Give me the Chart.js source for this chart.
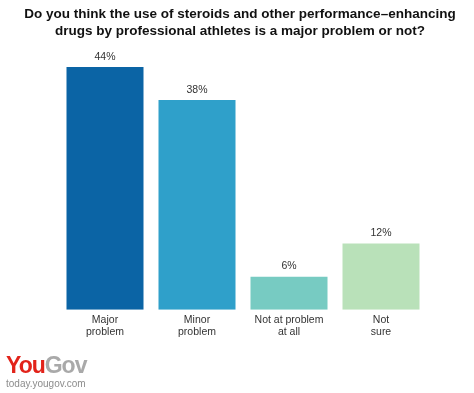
<!DOCTYPE html>
<html>
<head>
<meta charset="utf-8">
<script src="https://cdn.jsdelivr.net/npm/chart.js@4"></script>
<style>
    html, body { margin: 0; padding: 0; background: #fff; }
    #wrap { position: relative; width: 474px; height: 393px; }
    #chart { position: absolute; left: 0; top: 0; }
    .title { position: absolute; left: 3px; top: 5px; width: 474px; text-align: center;
             font-family: 'Liberation Sans', Arial, sans-serif; font-size: 13.5px; font-weight: bold;
             line-height: 17px; color: #111; }
    .logo { position: absolute; left: 6px; top: 352px; font-family: 'Liberation Sans', Arial, sans-serif; }
    .logo .brand { font-size: 23px; font-weight: bold; letter-spacing: -1px; line-height: 26px; }
    .logo .you { color: #e2231a; }
    .logo .gov { color: #a9a9a9; }
    .logo .url { font-size: 10px; color: #8c8c8c; line-height: 12px; margin-top: 0px; }
</style>
</head>
<body>
<div id="wrap">
    <canvas id="chart" width="474" height="393"></canvas>
    <div class="title">
        <div>Do you think the use of steroids and other performance&ndash;enhancing</div>
        <div>drugs by professional athletes is a major problem or not?</div>
    </div>
    <div class="logo">
        <div class="brand"><span class="you">You</span><span class="gov">Gov</span></div>
        <div class="url">today.yougov.com</div>
    </div>
</div>
<script>
/* ---------- Data ---------- */
const categories = [['Major', 'problem'], ['Minor', 'problem'], ['Not at problem', 'at all'], ['Not', 'sure']];
const values = [44, 38, 6, 12];
const barColors = ['#0b64a5', '#2fa0ca', '#77cbc2', '#b9e1b9'];

/* ---------- Value labels above bars ---------- */
const valueLabels = {
    id: 'valueLabels',
    afterDatasetsDraw(chart) {
        const ctx = chart.ctx;
        const meta = chart.getDatasetMeta(0);
        ctx.save();
        ctx.font = "10.5px 'Liberation Sans', Arial, sans-serif";
        ctx.fillStyle = '#333';
        ctx.textAlign = 'center';
        ctx.textBaseline = 'bottom';
        meta.data.forEach((bar, i) => {
            ctx.fillText(values[i] + '%', bar.x, bar.y - 5);
        });
        ctx.restore();
    }
};

new Chart(document.getElementById('chart'), {
    type: 'bar',
    data: {
        labels: categories,
        datasets: [{
            data: values,
            backgroundColor: barColors,
            borderWidth: 0,
            categoryPercentage: 1,
            barPercentage: 0.837
        }]
    },
    options: {
        responsive: false,
        animation: false,
        layout: { padding: { left: 59, right: 47, top: 67, bottom: 51 } },
        plugins: {
            legend: { display: false },
            tooltip: { enabled: false },
            title: { display: false }
        },
        scales: {
            y: { display: false, min: 0, max: 44 },
            x: {
                grid: { display: false, drawTicks: false },
                border: { display: false },
                ticks: {
                    color: '#333',
                    padding: 4,
                    font: { family: "'Liberation Sans', Arial, sans-serif", size: 10.5, lineHeight: 1.15 },
                    maxRotation: 0,
                    autoSkip: false
                }
            }
        }
    },
    plugins: [valueLabels]
});
</script>
</body>
</html>
